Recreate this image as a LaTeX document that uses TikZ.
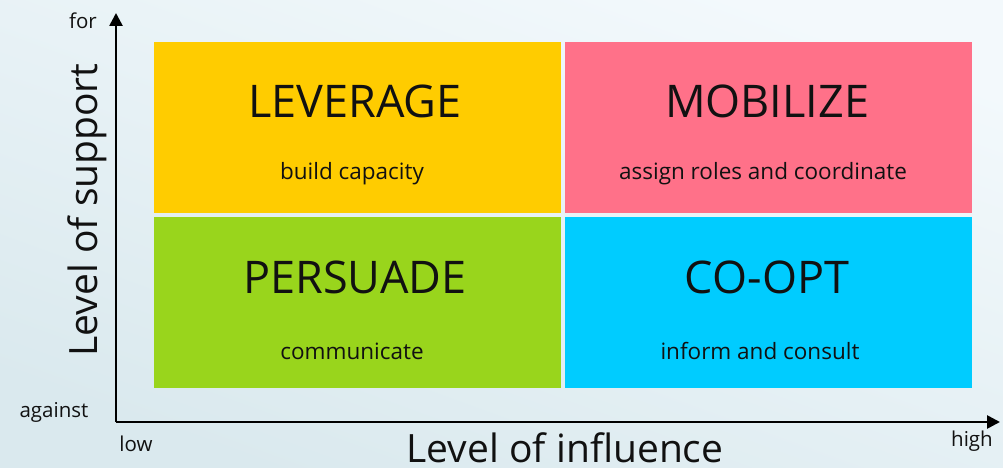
\documentclass[tikz,border=0pt]{standalone}
\usepackage{fontspec}
\setmainfont{Open Sans}
\usetikzlibrary{arrows.meta}
\definecolor{bgtop}{HTML}{F3F9FC}
\definecolor{bgbot}{HTML}{DAE9EE}
\definecolor{qyellow}{HTML}{FFCC00}
\definecolor{qpink}{HTML}{FF7189}
\definecolor{qgreen}{HTML}{99D51C}
\definecolor{qblue}{HTML}{00CCFF}
\definecolor{txt}{HTML}{111111}
\begin{document}
\begin{tikzpicture}[x=1pt,y=-1pt,
  quad/.style={minimum width=407pt,minimum height=171pt,inner sep=0pt,outer sep=0pt,draw=none},
  qtitle/.style={text=txt,font=\fontsize{45}{45}\selectfont,inner sep=0pt},
  qsub/.style={text=txt,font=\fontsize{22.5}{22.5}\selectfont,inner sep=0pt},
  axis/.style={line width=2.6pt,draw=black},
  small/.style={text=txt,font=\fontsize{20.5}{20.5}\selectfont,inner sep=0pt},
  big/.style={text=txt,font=\fontsize{39}{39}\selectfont,inner sep=0pt}]
\useasboundingbox (0,0) rectangle (1003,468);
\shade[top color=bgtop,bottom color=bgbot,shading angle=-20] (0,0) rectangle (1003,468);
% quadrants
\node[quad,fill=qyellow] (lev) at (357.5,127.5) {};
\node[quad,fill=qpink] (mob) at (768.5,127.5) {};
\node[quad,fill=qgreen] (per) at (357.5,302.5) {};
\node[quad,fill=qblue] (coo) at (768.5,302.5) {};
% titles
\node[qtitle] (levt) at (355,101) {LEVERAGE};
\node[qsub] (levs) at (352,174) {build capacity};
\node[qtitle] (mobt) at (767,101) {MOBILIZE};
\node[qsub] (mobs) at (763,174) {assign roles and coordinate};
\node[qtitle] (pert) at (355,277) {PERSUADE};
\node[qsub] (pers) at (352,351) {communicate};
\node[qtitle] (coot) at (767,277) {CO-OPT};
\node[qsub] (coos) at (760,351) {inform and consult};
% axes
\coordinate (origin) at (116,422);
\coordinate (ytop) at (116,13);
\coordinate (xend) at (1000,422);
\draw[axis,-{Triangle[length=13pt,width=13pt]}] (origin) -- (ytop);
\draw[axis,-{Triangle[length=13pt,width=13pt]}] (origin) -- (xend);
% axis labels
\node[small] (for) at (83,21) {for};
\node[small] (against) at (54,412) {against};
\node[small] (low) at (136,444) {low};
\node[small] (high) at (972,441) {high};
\node[big] (xlab) at (565,448) {Level of influence};
\node[big,rotate=90] (ylab) at (87,210) {Level of support};
\end{tikzpicture}
\end{document}
